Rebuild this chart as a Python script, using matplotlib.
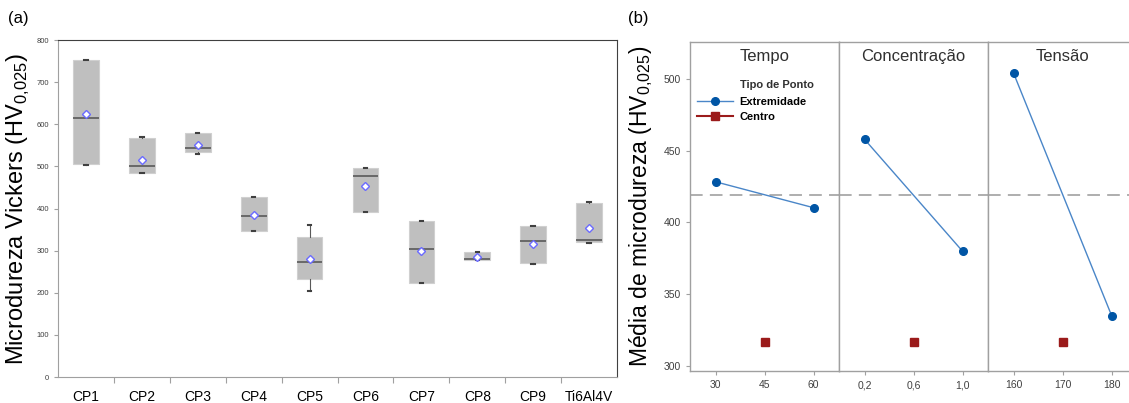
import matplotlib.pyplot as plt
import numpy as np

plt.rcParams['font.family'] = ['Liberation Sans', 'DejaVu Sans']
plt.rcParams['mathtext.fontset'] = 'custom'
plt.rcParams['mathtext.rm'] = 'Liberation Sans'

# ---- panel (a) data: box plot statistics
categories = ['CP1', 'CP2', 'CP3', 'CP4', 'CP5', 'CP6', 'CP7', 'CP8', 'CP9', 'Ti6Al4V']
whislo = [504, 484, 530, 346, 205, 391, 222, 278, 268, 319]
q1 = [506, 484, 533, 347, 233, 391, 224, 278, 270, 321]
med = [614, 501, 543, 383, 274, 476, 305, 281, 323, 326]
q3 = [752, 567, 580, 428, 333, 496, 370, 297, 358, 412]
whishi = [752, 569, 580, 428, 362, 497, 370, 297, 358, 415]
means = [624, 515, 550, 385, 279, 454, 298, 285, 316, 354]

# ---- panel (b) data: main effects plot
factors = ['Tempo', 'Concentração', 'Tensão']
levels = [[30, 60], [0.2, 1.0], [160, 180]]
extremidade = [[428.3, 410.2], [457.9, 379.8], [504.0, 334.9]]
centro_x = [45, 0.6, 170]
centro = [316.3, 316.3, 316.3]
tick_vals = [[30, 45, 60], [0.2, 0.6, 1.0], [160, 170, 180]]
tick_labels = [['30', '45', '60'], ['0,2', '0,6', '1,0'], ['160', '170', '180']]
grand_mean = 419.2

sub = r'$_{\mathregular{0{,}025}}$'

fig = plt.figure(figsize=(11.29, 4.03), dpi=100)

# ================= (a)
ax = fig.add_axes([0.0514, 0.0645, 0.4951, 0.8362])
stats = []
for i in range(len(categories)):
    stats.append(dict(label=categories[i], whislo=whislo[i], q1=q1[i], med=med[i],
                      q3=q3[i], whishi=whishi[i], mean=means[i], fliers=[]))
pos = np.arange(len(categories))
ax.bxp(stats, positions=pos, widths=0.46, patch_artist=True, showmeans=True,
       showfliers=False,
       boxprops=dict(facecolor='#bfbfbf', edgecolor='#d0d0d0', linewidth=0.8),
       medianprops=dict(color='#595959', linewidth=1.2),
       whiskerprops=dict(color='#595959', linewidth=0.8),
       capprops=dict(color='#404040', linewidth=1.5),
       capwidths=0.06,
       meanprops=dict(marker='D', markerfacecolor='white', markeredgecolor='#6b6bff',
                      markersize=4.5, markeredgewidth=1.0))
ax.set_xlim(-0.5, len(categories) - 0.5)
ax.set_ylim(0, 800)
ax.set_yticks(np.arange(0, 801, 100))
ax.tick_params(axis='y', labelsize=5.5, labelcolor='#404040', length=3, color='#a0a0a0', width=0.8)
ax.set_xticks(pos)
ax.set_xticklabels(categories, fontsize=10)
ax.tick_params(axis='x', length=0, pad=9)
ax.set_xticks(np.arange(0.5, len(categories) - 1, 1), minor=True)
ax.tick_params(axis='x', which='minor', length=4, color='#a0a0a0', width=0.8)
for s in ['left', 'bottom']:
    ax.spines[s].set_color('#a0a0a0')
for s in ['top', 'right']:
    ax.spines[s].set_color('#404040')
    ax.spines[s].set_linewidth(0.8)
ax.set_ylabel('Microdureza Vickers (HV' + sub + ')', fontsize=17)
ax.yaxis.set_label_coords(-0.047, 0.5)
fig.text(0.007, 0.955, '(a)', fontsize=12, ha='left', va='center')

# ================= (b)
left0 = 0.6112
w = 0.132
axes_b = []
for k in range(3):
    axb = fig.add_axes([left0 + k * w, 0.0794, w, 0.8171])
    axes_b.append(axb)
    x = levels[k]
    span = x[1] - x[0]
    axb.set_xlim(x[0] - 0.26 * span, x[1] + 0.26 * span)
    axb.set_ylim(296.3, 526)
    axb.axhline(grand_mean, color='#a8a8a8', linestyle=(0, (7, 4)), linewidth=1.3, zorder=1)
    axb.plot(x, extremidade[k], color='#4a86c8', linewidth=1.0, marker='o', markersize=5.5,
             markerfacecolor='#0055a5', markeredgecolor='#0055a5', zorder=3, label='Extremidade')
    axb.plot([centro_x[k]], [centro[k]], color='#9b1b1b', marker='s', markersize=6,
             linestyle='-', zorder=3, label='Centro')
    axb.set_xticks(tick_vals[k])
    axb.set_xticklabels(tick_labels[k])
    axb.tick_params(axis='x', labelsize=7.5, labelcolor='#404040', length=3, color='#a0a0a0')
    axb.text(0.5, 0.955, factors[k], transform=axb.transAxes, ha='center', va='center',
             fontsize=12, color='#303030')
    for s in axb.spines.values():
        s.set_color('#a0a0a0')
        s.set_linewidth(1.0)
    if k == 0:
        axb.set_yticks([300, 350, 400, 450, 500])
        axb.tick_params(axis='y', labelsize=7.5, labelcolor='#404040', length=3, color='#a0a0a0')
        axb.set_ylabel('Média de microdureza (HV' + sub + ')', fontsize=16.5, labelpad=6)
    else:
        axb.set_yticks([])

axes_b[0].text(0.336, 0.869, 'Tipo de Ponto', transform=axes_b[0].transAxes, fontsize=8,
               fontweight='bold', color='#303030', ha='left', va='center')
axes_b[0].legend(loc='upper left', bbox_to_anchor=(0.02, 0.847), frameon=False,
                 handlelength=3.2, handletextpad=0.6, labelspacing=0.45, borderaxespad=0,
                 prop=dict(weight='bold', size=8))
fig.text(0.556, 0.955, '(b)', fontsize=12, ha='left', va='center')

fig.savefig('out.png', dpi=100)
